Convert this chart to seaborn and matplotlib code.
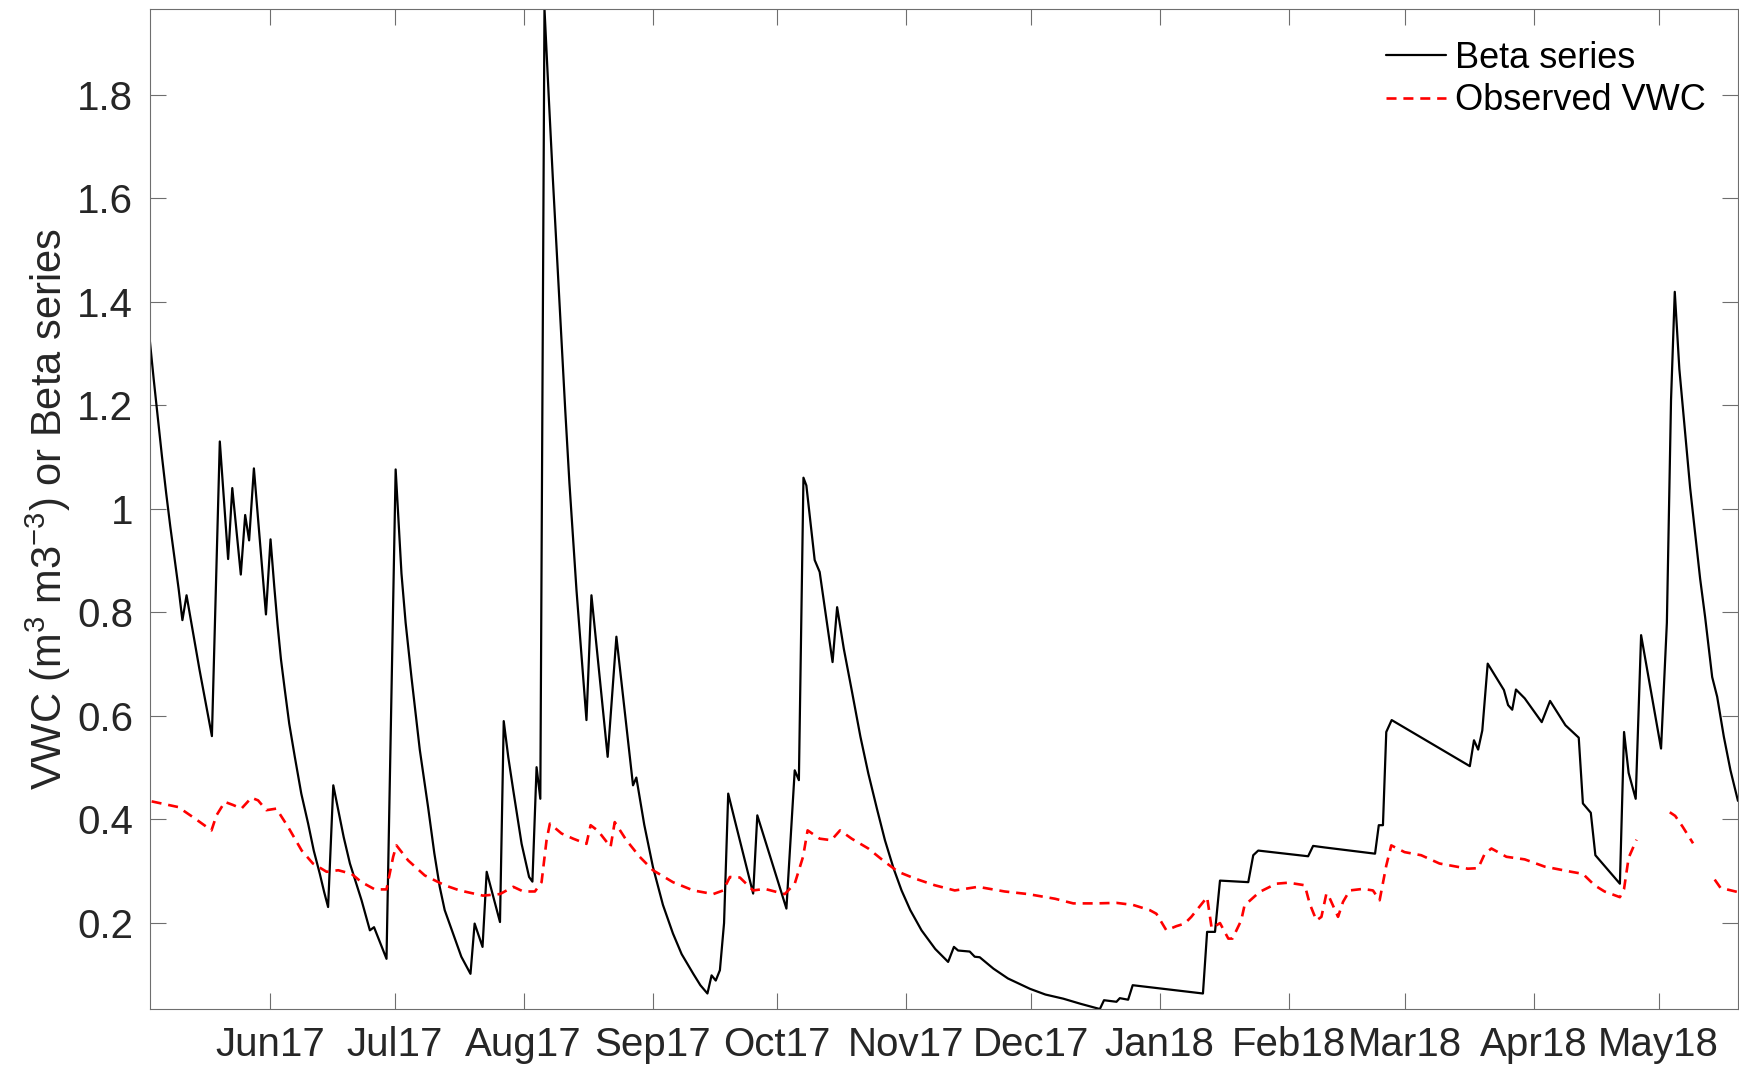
import numpy as np
import pandas as pd
import matplotlib
matplotlib.use("Agg")
import matplotlib.pyplot as plt
import matplotlib.dates as mdates
import seaborn as sns

# ---- data (days counted from 1 Jun 2017) ----
base_date = "2017-06-01"

beta_day = [-29.0, -28.0, -27.0, -26.0, -25.0, -24.0, -23.0, -22.0, -21.1, -20.1,
            -17.0, -14.0, -12.1, -10.1, -9.1, -7.05, -6.0, -5.05, -3.9, -1.0,
            0.1, 1.0, 1.77, 2.6, 3.54, 4.6, 5.94, 7.5, 9.15, 10.5,
            11.96, 13.0, 13.95, 15.2, 16.4, 17.7, 19.2, 22.0, 24.0, 25.0,
            28.0, 30.2, 31.6, 32.6, 34.0, 36.0, 38.0, 39.5, 40.8, 42.0,
            44.0, 46.0, 48.2, 49.2, 51.1, 52.1, 55.3, 56.2, 57.3, 58.5,
            60.5, 62.3, 63.1, 64.1, 65.0, 66.0, 67.0, 68.0, 69.0, 70.0,
            71.0, 72.0, 73.7, 76.1, 77.3, 81.2, 83.3, 87.3, 88.1, 90.0,
            92.1, 94.5, 96.9, 99.0, 101.8, 103.5, 105.2, 106.2, 107.2, 108.2,
            109.2, 110.2, 111.8, 116.2, 117.2, 124.2, 126.2, 127.2, 128.3, 129.0,
            131.0, 132.2, 135.3, 136.4, 138.0, 139.9, 142.0, 143.9, 146.0, 147.9,
            150.0, 151.9, 154.0, 156.7, 160.0, 163.1, 164.5, 165.5, 168.3, 169.5,
            170.7, 174.0, 177.5, 182.8, 186.5, 190.8, 195.0, 199.6, 200.6, 203.6,
            204.4, 206.4, 207.5, 224.4, 225.4, 227.3, 228.5, 235.3, 236.5, 237.7,
            249.7, 250.9, 253.7, 265.8, 266.7, 267.7, 268.5, 269.8, 288.6, 289.6,
            290.6, 291.6, 292.9, 296.8, 297.8, 298.8, 299.7, 301.8, 305.9, 307.9,
            311.6, 314.8, 315.8, 317.7, 318.8, 324.7, 325.7, 326.8, 328.5, 329.8,
            334.6, 336.0, 337.0, 337.9, 339.0, 340.4, 341.6, 342.8, 344.0, 345.2,
            346.9, 348.1, 349.7, 351.3, 353.1]
beta_val = [1.33, 1.25, 1.175, 1.10, 1.03, 0.965, 0.905, 0.845, 0.785, 0.833,
            0.69, 0.561, 1.13, 0.903, 1.04, 0.873, 0.988, 0.939, 1.078, 0.796,
            0.941, 0.85, 0.778, 0.71, 0.650, 0.585, 0.521, 0.45, 0.392, 0.34,
            0.295, 0.26, 0.231, 0.466, 0.418, 0.366, 0.315, 0.244, 0.186, 0.192,
            0.131, 1.076, 0.875, 0.78, 0.675, 0.535, 0.424, 0.335, 0.27, 0.225,
            0.18, 0.135, 0.102, 0.199, 0.154, 0.299, 0.202, 0.590, 0.52, 0.456,
            0.353, 0.289, 0.28, 0.501, 0.44, 1.966, 1.80, 1.64, 1.49, 1.34,
            1.19, 1.05, 0.843, 0.592, 0.833, 0.521, 0.753, 0.466, 0.481, 0.39,
            0.308, 0.235, 0.18, 0.14, 0.102, 0.08, 0.064, 0.099, 0.089, 0.109,
            0.20, 0.450, 0.398, 0.257, 0.408, 0.228, 0.495, 0.476, 1.06, 1.045,
            0.901, 0.878, 0.704, 0.81, 0.73, 0.65, 0.56, 0.489, 0.42, 0.36,
            0.305, 0.263, 0.225, 0.186, 0.15, 0.125, 0.154, 0.147, 0.145, 0.135,
            0.134, 0.112, 0.093, 0.073, 0.062, 0.054, 0.044, 0.034, 0.051, 0.048,
            0.055, 0.052, 0.080, 0.064, 0.183, 0.183, 0.282, 0.279, 0.331, 0.34,
            0.329, 0.349, 0.346, 0.334, 0.389, 0.389, 0.569, 0.592, 0.503, 0.553,
            0.535, 0.572, 0.701, 0.65, 0.621, 0.612, 0.651, 0.634, 0.588, 0.629,
            0.582, 0.558, 0.431, 0.413, 0.331, 0.276, 0.569, 0.49, 0.44, 0.756,
            0.537, 0.78, 1.21, 1.419, 1.27, 1.145, 1.04, 0.952, 0.865, 0.791,
            0.675, 0.637, 0.56, 0.495, 0.436]

vwc_day = [-28.5, -22.1, -18.1, -14.1, -12.9, -10.9, -8.9, -6.9, -4.5, -2.9,
           -0.9, 1.5, 4.3, 7.6, 10.3, 13.6, 16.4, 19.6, 22.0, 25.2,
           28.0, 29.6, 30.4, 33.2, 37.2, 42.0, 45.6, 51.2, 55.3, 58.5,
           60.9, 63.7, 65.3, 66.5, 67.3, 70.1, 72.9, 76.1, 77.1, 78.9,
           81.9, 82.9, 85.7, 88.9, 92.1, 96.9, 101.8, 106.6, 109.0, 110.6,
           113.0, 116.2, 119.0, 123.8, 126.2, 128.2, 129.3, 132.2, 135.0, 137.1,
           139.9, 143.9, 147.9, 151.1, 155.1, 159.9, 164.7, 170.3, 176.7, 182.3,
           188.8, 193.2, 198.8, 203.6, 207.6, 211.6, 213.2, 215.6, 218.0, 220.0,
           221.6, 225.4, 226.5, 228.5, 230.5, 231.5, 233.6, 234.4, 238.0, 242.0,
           245.0, 248.9, 250.1, 251.7, 252.9, 254.1, 254.5, 256.9, 258.1, 259.7,
           262.9, 265.3, 266.9, 268.5, 269.7, 272.9, 276.9, 281.3, 288.1, 290.6,
           292.2, 293.8, 297.4, 301.8, 306.6, 313.0, 315.8, 318.6, 321.0, 324.7,
           325.7, 326.8, 328.7, 332.5, 336.7, 338.0, 339.8, 342.3, 345.0, 347.5,
           348.9, 353.0]
vwc_val = [0.435, 0.424, 0.402, 0.379, 0.408, 0.434, 0.428, 0.421, 0.442, 0.437,
           0.418, 0.421, 0.386, 0.34, 0.315, 0.299, 0.302, 0.295, 0.279, 0.265,
           0.265, 0.328, 0.35, 0.321, 0.292, 0.273, 0.263, 0.253, 0.256, 0.27,
           0.261, 0.261, 0.279, 0.36, 0.392, 0.373, 0.363, 0.353, 0.389, 0.378,
           0.347, 0.395, 0.36, 0.328, 0.302, 0.279, 0.263, 0.256, 0.263, 0.289,
           0.288, 0.263, 0.266, 0.256, 0.276, 0.328, 0.379, 0.363, 0.36, 0.379,
           0.363, 0.344, 0.318, 0.299, 0.286, 0.273, 0.263, 0.27, 0.261, 0.256,
           0.247, 0.238, 0.238, 0.239, 0.235, 0.225, 0.218, 0.186, 0.194, 0.199,
           0.212, 0.25, 0.19, 0.20, 0.17, 0.17, 0.205, 0.234, 0.26, 0.276,
           0.278, 0.273, 0.237, 0.205, 0.212, 0.257, 0.255, 0.212, 0.241, 0.263,
           0.266, 0.263, 0.244, 0.311, 0.35, 0.337, 0.331, 0.315, 0.305, 0.306,
           0.334, 0.344, 0.328, 0.323, 0.309, 0.299, 0.295, 0.273, 0.261, 0.25,
           0.266, 0.326, 0.361, np.nan, 0.414, 0.407, 0.386, 0.354, np.nan, 0.284,
           0.268, 0.26]

tick_months = ["2017-06-01", "2017-07-01", "2017-08-01", "2017-09-01",
               "2017-10-01", "2017-11-01", "2017-12-01", "2018-01-01",
               "2018-02-01", "2018-03-01", "2018-04-01", "2018-05-01"]
ytick_vals = [0.2, 0.4, 0.6, 0.8, 1.0, 1.2, 1.4, 1.6, 1.8]
ytick_labels = ["0.2", "0.4", "0.6", "0.8", "1", "1.2", "1.4", "1.6", "1.8"]
series_names = ["Beta series", "Observed VWC"]
y_label = "VWC (m$^3$ m3$^{-3}$) or Beta series"

# ---- style ----
sns.set_style("ticks")
plt.rcParams["font.family"] = ["Liberation Sans", "DejaVu Sans"]
plt.rcParams["mathtext.fontset"] = "custom"
plt.rcParams["mathtext.rm"] = "Liberation Sans"
plt.rcParams["mathtext.it"] = "Liberation Sans:italic"
plt.rcParams["mathtext.bf"] = "Liberation Sans:bold"

text_col = "#262626"
axis_col = "#6e6e6e"

t0 = pd.Timestamp(base_date)
beta_df = pd.DataFrame({"date": t0 + pd.to_timedelta(beta_day, unit="D"),
                        "value": beta_val})
vwc_df = pd.DataFrame({"date": t0 + pd.to_timedelta(vwc_day, unit="D"),
                       "value": vwc_val})
vwc_df["seg"] = vwc_df["value"].isna().cumsum()
vwc_df = vwc_df.dropna()

fig, ax = plt.subplots(figsize=(17.39, 10.69), dpi=100)
fig.subplots_adjust(left=0.0860, right=0.9994, top=0.992, bottom=0.0561)

sns.lineplot(data=beta_df, x="date", y="value", color="black", lw=1.6,
             estimator=None, sort=False, ax=ax)
sns.lineplot(data=vwc_df, x="date", y="value", units="seg", estimator=None,
             color="red", lw=1.9, linestyle=(0, (3.8, 2.6)), sort=False, ax=ax)

ax.set_xlim(beta_df["date"].min(), beta_df["date"].max())
ax.set_ylim(min(beta_val), max(beta_val))

ax.set_xticks(pd.to_datetime(tick_months))
ax.xaxis.set_major_formatter(mdates.DateFormatter("%b%y"))
ax.set_yticks(ytick_vals)
ax.set_yticklabels(ytick_labels)
ax.minorticks_off()

ax.tick_params(axis="both", which="major", direction="in", length=11.5,
               width=0.8, color=axis_col, labelcolor=text_col, labelsize=29,
               top=True, right=True)
ax.tick_params(axis="x", pad=12)
ax.tick_params(axis="y", pad=12)

for sp in ax.spines.values():
    sp.set_visible(True)
    sp.set_color(axis_col)
    sp.set_linewidth(0.8)

ax.set_xlabel("")
ax.set_ylabel(y_label, fontsize=30, color=text_col, labelpad=3)

lines = ax.get_lines()
leg = ax.legend([lines[0], lines[1]], series_names, loc="upper right",
                frameon=False, fontsize=26, handlelength=1.65,
                handletextpad=0.25, labelspacing=0.2, borderaxespad=0.5)
for t in leg.get_texts():
    t.set_color("black")

fig.savefig("out.png", dpi=100)
